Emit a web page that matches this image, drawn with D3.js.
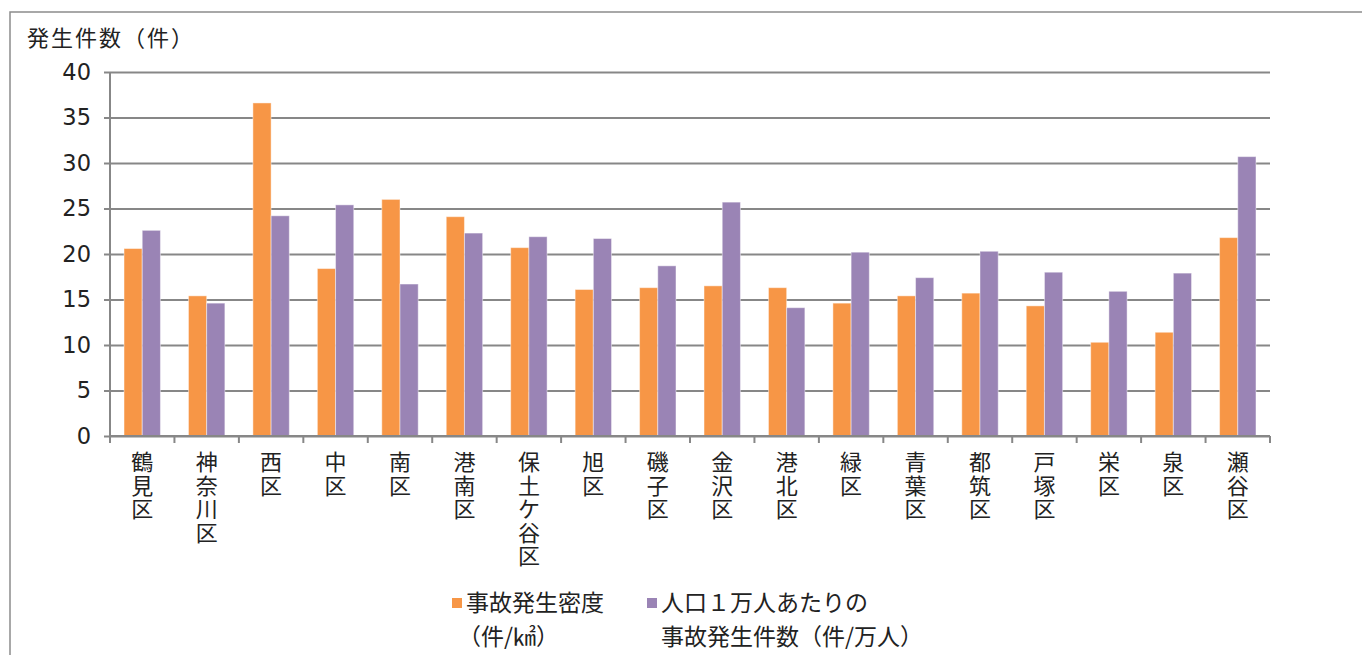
<!DOCTYPE html>
<html lang="ja">
<head>
<meta charset="utf-8">
<script src="https://cdn.jsdelivr.net/npm/d3@7/dist/d3.min.js"></script>
<style>
    html, body { margin: 0; padding: 0; background: #fff; }
    svg { display: block; }
</style>
</head>
<body>
<div id="chart"></div>
<script>
"use strict";

const wards = [
    "鶴見区", "神奈川区", "西区", "中区", "南区", "港南区", "保土ケ谷区", "旭区", "磯子区",
    "金沢区", "港北区", "緑区", "青葉区", "都筑区", "戸塚区", "栄区", "泉区", "瀬谷区"
];
const densityValues = [
    20.6, 15.4, 36.6, 18.4, 26.0, 24.1, 20.7, 16.1, 16.3,
    16.5, 16.3, 14.6, 15.4, 15.7, 14.3, 10.3, 11.4, 21.8
];
const perPopulationValues = [
    22.6, 14.6, 24.2, 25.4, 16.7, 22.3, 21.9, 21.7, 18.7,
    25.7, 14.1, 20.2, 17.4, 20.3, 18.0, 15.9, 17.9, 30.7
];
const yTicks = [0, 5, 10, 15, 20, 25, 30, 35, 40];
const seriesKeys = ["density", "perPopulation"];
const seriesColors = { density: "#f79646", perPopulation: "#9a84b5" };
const legendLines = {
    density: ["事故発生密度", "（件/㎢）"],
    perPopulation: ["人口１万人あたりの", "事故発生件数（件/万人）"]
};
const yTitle = "発生件数（件）";

const WIDTH = 1362;
const HEIGHT = 655;
const plot = { left: 110, right: 1270, top: 72, bottom: 436 };
const JP_FONT = "'Noto Sans CJK JP', 'Noto Sans', sans-serif";
const NUM_FONT = "'DejaVu Sans', sans-serif";
const GRID_COLOR = "#878787";
const TEXT_COLOR = "#222";

const rows = wards.map((ward, i) => ({
    ward,
    density: densityValues[i],
    perPopulation: perPopulationValues[i]
}));

const svg = d3.select("#chart")
    .append("svg")
    .attr("width", WIDTH)
    .attr("height", HEIGHT);

svg.append("rect")
    .attr("width", WIDTH)
    .attr("height", HEIGHT)
    .attr("fill", "#fff");

// outer frame of the chart area, only left and top edge are on screen
svg.append("rect")
    .attr("x", 10)
    .attr("y", 12)
    .attr("width", WIDTH + 40)
    .attr("height", HEIGHT + 40)
    .attr("fill", "none")
    .attr("stroke", "#8c8c8c")
    .attr("stroke-width", 1.5);

const y = d3.scaleLinear()
    .domain([0, 40])
    .range([plot.bottom, plot.top]);

const PAD_INNER = 0.435;
const x = d3.scaleBand()
    .domain(wards)
    .range([plot.left, plot.right])
    .paddingInner(PAD_INNER)
    .paddingOuter(PAD_INNER / 2);

const xSeries = d3.scaleBand()
    .domain(seriesKeys)
    .range([0, x.bandwidth()]);

/**
 * Horizontal grid lines with small ticks left of the value axis.
 */
const drawYAxis = () => {
    const yAxis = d3.axisLeft(y)
        .tickValues(yTicks)
        .tickSize(-(plot.right - plot.left) - 6)
        .tickPadding(13)
        .tickFormat(d3.format("d"));

    const g = svg.append("g")
        .attr("transform", `translate(${plot.left - 6},0)`)
        .call(yAxis);

    g.select(".domain").remove();
    g.selectAll(".tick line")
        .attr("stroke", GRID_COLOR)
        .attr("stroke-width", 2);
    g.selectAll(".tick text")
        .attr("fill", TEXT_COLOR)
        .style("font-family", NUM_FONT)
        .style("font-size", "22.5px");
};

/**
 * Category axis: boundary ticks and stacked vertical ward names.
 */
const drawXAxis = () => {
    const step = x.step();
    const boundaries = wards.map((w) => x(w) - (step * PAD_INNER) / 2);
    boundaries.push(plot.right);

    svg.append("line")
        .attr("x1", plot.left)
        .attr("x2", plot.left)
        .attr("y1", plot.top)
        .attr("y2", plot.bottom)
        .attr("stroke", GRID_COLOR)
        .attr("stroke-width", 2);

    svg.append("line")
        .attr("x1", plot.left)
        .attr("x2", plot.right)
        .attr("y1", plot.bottom)
        .attr("y2", plot.bottom)
        .attr("stroke", GRID_COLOR)
        .attr("stroke-width", 2);

    svg.append("g")
        .selectAll("line")
        .data(boundaries)
        .join("line")
        .attr("x1", (d) => d)
        .attr("x2", (d) => d)
        .attr("y1", plot.bottom)
        .attr("y2", plot.bottom + 7)
        .attr("stroke", GRID_COLOR)
        .attr("stroke-width", 2);

    const labels = svg.append("g")
        .selectAll("text")
        .data(wards)
        .join("text")
        .attr("text-anchor", "middle")
        .attr("fill", TEXT_COLOR)
        .style("font-family", JP_FONT)
        .style("font-size", "22px");

    labels.selectAll("tspan")
        .data((w) => Array.from(w).map((ch) => ({ ch, w })))
        .join("tspan")
        .attr("x", (d) => x(d.w) + x.bandwidth() / 2)
        .attr("y", (d, i) => 470 + i * 23.6)
        .text((d) => d.ch);
};

const drawBars = () => {
    const groups = svg.append("g")
        .selectAll("g")
        .data(rows)
        .join("g")
        .attr("transform", (d) => `translate(${x(d.ward)},0)`);

    groups.selectAll("rect")
        .data((d) => seriesKeys.map((key) => ({ key, value: d[key] })))
        .join("rect")
        .attr("x", (d) => xSeries(d.key))
        .attr("y", (d) => y(d.value))
        .attr("width", xSeries.bandwidth())
        .attr("height", (d) => y(0) - y(d.value))
        .attr("fill", (d) => seriesColors[d.key])
        .attr("stroke", "#ffffff")
        .attr("stroke-opacity", 0.45)
        .attr("stroke-width", 1);
};

const drawTitle = () => {
    svg.append("text")
        .attr("x", 27)
        .attr("y", 46)
        .attr("fill", TEXT_COLOR)
        .style("font-family", JP_FONT)
        .style("font-size", "22px")
        .style("letter-spacing", "2px")
        .text(yTitle);
};

const drawLegend = () => {
    const legendX = { density: 452, perPopulation: 647 };
    const items = svg.append("g")
        .selectAll("g")
        .data(seriesKeys)
        .join("g")
        .attr("transform", (d) => `translate(${legendX[d]},0)`);

    items.append("rect")
        .attr("x", 0)
        .attr("y", 598)
        .attr("width", 10)
        .attr("height", 10)
        .attr("fill", (d) => seriesColors[d]);

    const text = items.append("text")
        .attr("fill", TEXT_COLOR)
        .style("font-family", JP_FONT)
        .style("font-size", "23px");

    text.append("tspan")
        .attr("x", 14)
        .attr("y", 611)
        .text((d) => legendLines[d][0]);
    text.append("tspan")
        .attr("x", (d) => (d === "density" ? 6 : 14))
        .attr("y", 645)
        .text((d) => legendLines[d][1]);
};

drawYAxis();
drawBars();
drawXAxis();
drawTitle();
drawLegend();
</script>
</body>
</html>
